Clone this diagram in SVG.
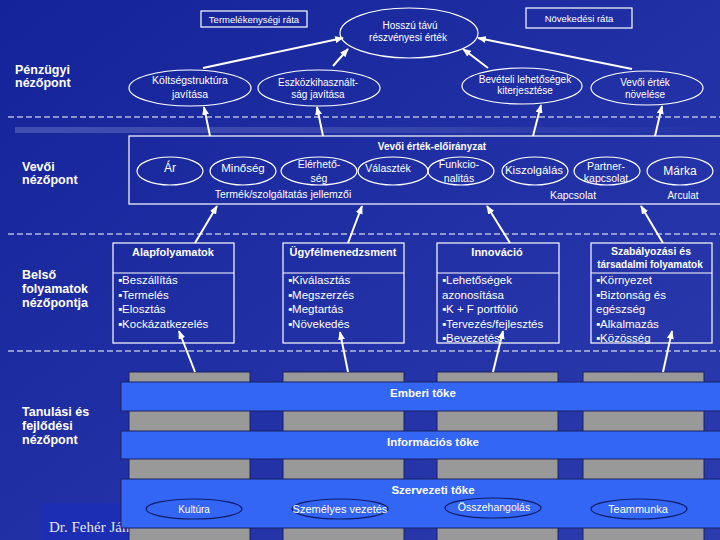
<svg xmlns="http://www.w3.org/2000/svg" width="720" height="540" viewBox="0 0 720 540">
<defs>
<linearGradient id="bg" x1="0" y1="0" x2="1" y2="1">
<stop offset="0" stop-color="#15239a"/>
<stop offset="1" stop-color="#2c3cae"/>
</linearGradient>
<linearGradient id="glow" x1="0" y1="0" x2="1" y2="0">
<stop offset="0" stop-color="#8f9ad8" stop-opacity="0.35"/>
<stop offset="0.6" stop-color="#8f9ad8" stop-opacity="0.2"/>
<stop offset="1" stop-color="#8f9ad8" stop-opacity="0"/>
</linearGradient>
<marker id="ah" viewBox="0 0 10 8" refX="9" refY="4" markerWidth="9" markerHeight="7" markerUnits="userSpaceOnUse" orient="auto">
<path d="M0,0 L10,4 L0,8 z" fill="#ffffff"/>
</marker>
<style>
.lab{font-family:"Liberation Sans",Arial,sans-serif;font-weight:bold;font-size:12.5px;fill:#ffffff}
.t{font-family:"Liberation Sans",Arial,sans-serif;fill:#ffffff;text-anchor:middle}
.tl{font-family:"Liberation Sans",Arial,sans-serif;fill:#ffffff;font-size:11.5px}
.hb{font-family:"Liberation Sans",Arial,sans-serif;fill:#ffffff;font-weight:bold;text-anchor:middle}
.ew{fill:none;stroke:#ffffff;stroke-width:1.2}
.box{fill:none;stroke:#ffffff;stroke-width:1.2}
.dash{stroke:#ffffff;stroke-width:1.2;stroke-dasharray:6 3}
.pillar{fill:#999999;stroke:#1a2060;stroke-width:1}
.band{fill:#3366f5;stroke:#1a2060;stroke-width:1}
.be{fill:#3366f5;stroke:#101c6a;stroke-width:1.2}
.con line{stroke:#ffffff;stroke-width:2;marker-end:url(#ah)}
</style>
</defs>
<rect x="0" y="0" width="720" height="540" fill="url(#bg)"/>
<rect x="15" y="127" width="695" height="6" fill="url(#glow)"/>
<g id="dashes">
<line class="dash" x1="8" y1="117" x2="720" y2="117"/>
<line class="dash" x1="8" y1="234" x2="720" y2="234"/>
<line class="dash" x1="8" y1="351" x2="720" y2="351"/>
</g>
<g id="labels">
<text class="lab" x="15" y="74">Pénzügyi</text>
<text class="lab" x="15" y="87">nézőpont</text>
<text class="lab" x="22" y="171">Vevői</text>
<text class="lab" x="22" y="184">nézőpont</text>
<text class="lab" x="22" y="279">Belső</text>
<text class="lab" x="22" y="293">folyamatok</text>
<text class="lab" x="22" y="307">nézőpontja</text>
<text class="lab" x="22" y="416">Tanulási és</text>
<text class="lab" x="22" y="430">fejlődési</text>
<text class="lab" x="22" y="444">nézőpont</text>
</g>
<g id="n-termelekenyseg">
<rect class="box" x="201" y="11" width="106" height="16"/>
<text class="t" x="254" y="22.5" font-size="9.5">Termelékenységi ráta</text>
</g>
<g id="n-novekedes">
<rect class="box" x="526" y="8" width="106" height="20"/>
<text class="t" x="579" y="21.5" font-size="9.5">Növekedési ráta</text>
</g>
<g id="n-hosszu">
<ellipse class="ew" cx="409" cy="33" rx="69" ry="25"/>
<text class="t" x="410" y="28.5" font-size="10">Hosszú távú</text>
<text class="t" x="408" y="41" font-size="10">részvényesi érték</text>
</g>
<g id="n-koltseg">
<ellipse class="ew" cx="190" cy="88" rx="61" ry="18"/>
<text class="t" x="190" y="84" font-size="10.5">Költségstruktúra</text>
<text class="t" x="190" y="98" font-size="10.5">javítása</text>
</g>
<g id="n-eszkoz">
<ellipse class="ew" cx="319" cy="88" rx="61" ry="18"/>
<text class="t" x="318" y="85.5" font-size="10">Eszközkihasznált-</text>
<text class="t" x="318" y="97.5" font-size="10">ság javítása</text>
</g>
<g id="n-beveteli">
<ellipse class="ew" cx="522" cy="86" rx="60" ry="18"/>
<text class="t" x="525" y="82.5" font-size="10">Bevételi lehetőségek</text>
<text class="t" x="525" y="93.5" font-size="10">kiterjesztése</text>
</g>
<g id="n-vevoiertek">
<ellipse class="ew" cx="647" cy="88" rx="56" ry="17"/>
<text class="t" x="645" y="85.5" font-size="10">Vevői érték</text>
<text class="t" x="645" y="97.5" font-size="10">növelése</text>
</g>
<g id="n-eloiranyzat">
<rect class="box" x="129" y="136" width="600" height="68"/>
<text class="hb" x="432" y="150" font-size="10">Vevői érték-előirányzat</text>
<text class="t" x="283" y="198" font-size="10.5">Termék/szolgáltatás jellemzői</text>
<text class="t" x="573" y="198.5" font-size="10.5">Kapcsolat</text>
<text class="t" x="683" y="198.5" font-size="10">Arculat</text>
</g>
<g id="n-ar"><ellipse class="ew" cx="170" cy="171" rx="33" ry="14"/><text class="t" x="170" y="172" font-size="12">Ár</text></g>
<g id="n-minoseg"><ellipse class="ew" cx="243" cy="171" rx="33" ry="14"/><text class="t" x="243" y="172" font-size="11.5">Minőség</text></g>
<g id="n-elerheto"><ellipse class="ew" cx="319" cy="171" rx="38" ry="14"/><text class="t" x="319" y="167.5" font-size="10.5">Elérhető-</text><text class="t" x="319" y="181.5" font-size="10.5">ség</text></g>
<g id="n-valasztek"><ellipse class="ew" cx="393" cy="171" rx="35" ry="14"/><text class="t" x="388" y="171.5" font-size="10.5">Választék</text></g>
<g id="n-funkcio"><ellipse class="ew" cx="461" cy="171" rx="33" ry="14"/><text class="t" x="459" y="168" font-size="10.5">Funkcio-</text><text class="t" x="459" y="181.5" font-size="10.5">nalitás</text></g>
<g id="n-kiszolgalas"><ellipse class="ew" cx="535" cy="171" rx="33" ry="14"/><text class="t" x="534" y="174" font-size="11.5">Kiszolgálás</text></g>
<g id="n-partner"><ellipse class="ew" cx="607" cy="171" rx="33" ry="14"/><text class="t" x="606" y="169.5" font-size="10.5">Partner-</text><text class="t" x="606" y="182" font-size="10.5">kapcsolat</text></g>
<g id="n-marka"><ellipse class="ew" cx="680" cy="171" rx="33" ry="14"/><text class="t" x="680" y="175" font-size="12">Márka</text></g>
<g id="n-alap">
<rect class="box" x="113" y="243" width="121" height="100"/>
<line class="box" x1="113" y1="273" x2="234" y2="273"/>
<text class="hb" x="173" y="256" font-size="11">Alapfolyamatok</text>
<text class="tl" x="118" y="284">▪Beszállítás</text>
<text class="tl" x="118" y="298.5">▪Termelés</text>
<text class="tl" x="118" y="313">▪Elosztás</text>
<text class="tl" x="118" y="327.5">▪Kockázatkezelés</text>
</g>
<g id="n-ugyfel">
<rect class="box" x="283" y="243" width="121" height="100"/>
<line class="box" x1="283" y1="273" x2="404" y2="273"/>
<text class="hb" x="343" y="256" font-size="11">Ügyfélmenedzsment</text>
<text class="tl" x="288" y="284">▪Kiválasztás</text>
<text class="tl" x="288" y="298.5">▪Megszerzés</text>
<text class="tl" x="288" y="313">▪Megtartás</text>
<text class="tl" x="288" y="327.5">▪Növekedés</text>
</g>
<g id="n-innovacio">
<rect class="box" x="437" y="243" width="122" height="100"/>
<line class="box" x1="437" y1="273" x2="559" y2="273"/>
<text class="hb" x="497" y="256" font-size="11">Innováció</text>
<text class="tl" x="442" y="284">▪Lehetőségek</text>
<text class="tl" x="442" y="298.5">azonosítása</text>
<text class="tl" x="442" y="313">▪K + F portfólió</text>
<text class="tl" x="442" y="327.5">▪Tervezés/fejlesztés</text>
<text class="tl" x="442" y="342">▪Bevezetés</text>
</g>
<g id="n-szabalyozas">
<rect class="box" x="591" y="243" width="121" height="100"/>
<line class="box" x1="591" y1="273" x2="712" y2="273"/>
<text class="hb" x="651" y="255" font-size="10.5">Szabályozási és</text>
<text class="hb" x="650" y="268" font-size="10">társadalmi folyamatok</text>
<text class="tl" x="596" y="284">▪Környezet</text>
<text class="tl" x="596" y="298.5">▪Biztonság és</text>
<text class="tl" x="596" y="313">egészség</text>
<text class="tl" x="596" y="327.5">▪Alkalmazás</text>
<text class="tl" x="596" y="342">▪Közösség</text>
</g>
<rect x="42" y="503" width="90" height="37" fill="#1b2eb4"/>
<text x="49" y="532" font-family="'Liberation Serif','Times New Roman',serif" font-size="15" fill="#e4e6f4">Dr. Fehér Ján</text>
<g id="pillars">
<rect class="pillar" x="129" y="372" width="121" height="175"/>
<rect class="pillar" x="283" y="372" width="121" height="175"/>
<rect class="pillar" x="437" y="372" width="121" height="175"/>
<rect class="pillar" x="583" y="372" width="121" height="175"/>
</g>
<g id="n-emberi">
<rect class="band" x="121" y="382" width="610" height="29"/>
<text class="hb" x="423" y="397" font-size="11.5">Emberi tőke</text>
</g>
<g id="n-informacios">
<rect class="band" x="121" y="431" width="610" height="28"/>
<text class="hb" x="433" y="446" font-size="11.5">Információs tőke</text>
</g>
<g id="n-szervezeti">
<rect class="band" x="121" y="479" width="610" height="49"/>
<text class="hb" x="433" y="494" font-size="11.5">Szervezeti tőke</text>
</g>
<g id="n-kultura"><ellipse class="be" cx="194" cy="509" rx="48" ry="10"/><text class="t" x="194" y="512.5" font-size="10">Kultúra</text></g>
<g id="n-szemelyes"><ellipse class="be" cx="340" cy="509" rx="48" ry="10"/><text class="t" x="340" y="513" font-size="11">Személyes vezetés</text></g>
<g id="n-osszehangolas"><ellipse class="be" cx="493" cy="508" rx="48" ry="10"/><text class="t" x="494" y="511" font-size="10.5">Összehangolás</text></g>
<g id="n-teammunka"><ellipse class="be" cx="639" cy="509" rx="48" ry="10"/><text class="t" x="638" y="513" font-size="11">Teammunka</text></g>
<g id="connectors" class="con">
<line x1="203" y1="68" x2="343" y2="38"/>
<line x1="333" y1="66" x2="348" y2="49"/>
<line x1="488" y1="68" x2="463" y2="49"/>
<line x1="632" y1="69" x2="478" y2="38"/>
<line x1="210" y1="136" x2="204" y2="107"/>
<line x1="323" y1="136" x2="317" y2="107"/>
<line x1="533" y1="136" x2="541" y2="105"/>
<line x1="655" y1="136" x2="662" y2="106"/>
<line x1="195" y1="243" x2="217" y2="206"/>
<line x1="348" y1="243" x2="362" y2="206"/>
<line x1="510" y1="243" x2="487" y2="206"/>
<line x1="663" y1="243" x2="641" y2="206"/>
<line x1="195" y1="372" x2="179" y2="331"/>
<line x1="348" y1="372" x2="340" y2="332"/>
<line x1="493" y1="372" x2="503" y2="331"/>
<line x1="663" y1="372" x2="672" y2="331"/>
</g>
</svg>
